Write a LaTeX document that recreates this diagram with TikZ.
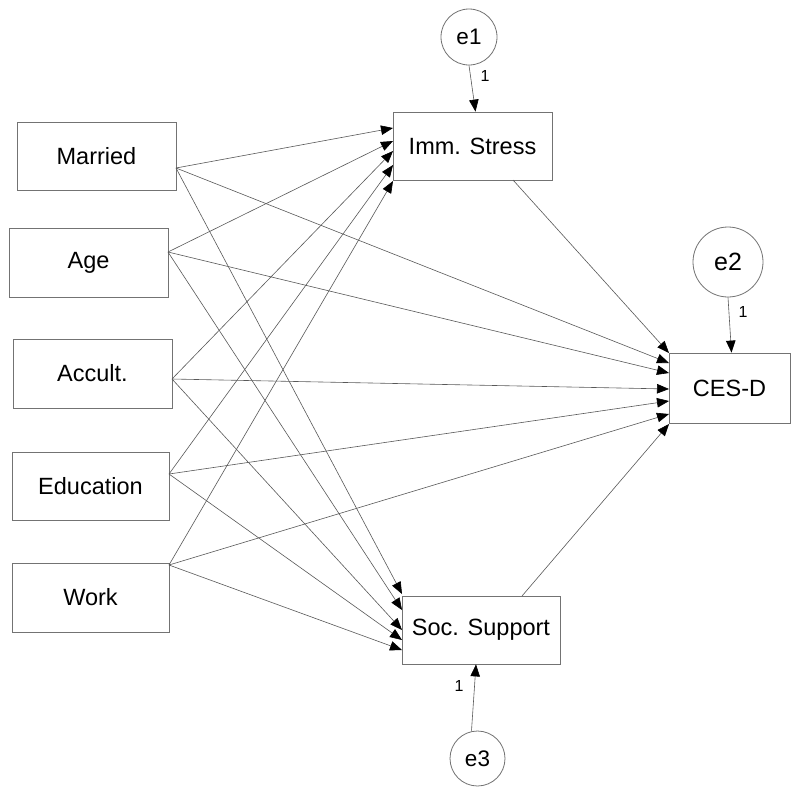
\documentclass[tikz,border=0pt]{standalone}
\usepackage{fontspec}
\setmainfont{Liberation Sans}
\usetikzlibrary{arrows.meta}
\begin{document}
\begin{tikzpicture}[x=1pt,y=-1pt,
  box/.style={draw=black!55,line width=0.8pt,rectangle,inner sep=0pt,font=\fontsize{23.5}{26}\selectfont},
  err/.style={draw=black!55,line width=0.8pt,circle,inner sep=0pt,font=\fontsize{22.5}{26}\selectfont},
  path/.style={draw=black!65,line width=0.6pt,-{Triangle[length=12pt,width=9.5pt,color=black]}},
  one/.style={font=\fontsize{16}{18}\selectfont}]
\useasboundingbox (0,0) rectangle (800,796);
\fill[white] (0,0) rectangle (800,796);
% exogenous boxes
\node[box,minimum width=159pt,minimum height=68pt] (mar) at (96.5,156) {Married};
\node[box,minimum width=159pt,minimum height=69pt] (age) at (88.5,262.5) {Age};
\node[box,minimum width=159pt,minimum height=69pt] (acc) at (92.5,373.5) {Accult.};
\node[box,minimum width=157pt,minimum height=68pt] (edu) at (90.5,486) {Education};
\node[box,minimum width=157pt,minimum height=69pt] (wor) at (90.5,597.5) {Work};
% endogenous boxes
\node[box,minimum width=159pt,minimum height=68pt] (ims) at (472.5,146) {Imm. Stress};
\node[box,minimum width=121pt,minimum height=70pt] (ces) at (729.5,388) {CES-D};
\node[box,minimum width=158pt,minimum height=68pt] (soc) at (481,630) {Soc. Support};
% errors
\node[err,minimum size=56pt] (e1) at (469,37) {e1};
\node[err,minimum size=70pt,font=\fontsize{25}{28}\selectfont] (e2) at (728,262) {e2};
\node[err,minimum size=55pt] (e3) at (477.5,758.5) {e3};
% start points on exogenous boxes
\coordinate (marO) at (176,168);
\coordinate (ageO) at (168,252);
\coordinate (accO) at (172,379);
\coordinate (eduO) at (169,474);
\coordinate (worO) at (169,565);
% targets on Imm. Stress
\coordinate (ims1) at (393,128);
\coordinate (ims2) at (393,141);
\coordinate (ims3) at (393,151);
\coordinate (ims4) at (393,165);
\coordinate (ims5) at (393,181);
% targets on CES-D
\coordinate (ces0) at (669,353);
\coordinate (ces1) at (669,363);
\coordinate (ces2) at (669,373);
\coordinate (ces3) at (669,389);
\coordinate (ces4) at (669,401);
\coordinate (ces5) at (669,414);
\coordinate (ces6) at (669,424);
% targets on Soc. Support
\coordinate (soc1) at (402,594);
\coordinate (soc2) at (402,610);
\coordinate (soc3) at (402,630);
\coordinate (soc4) at (402,640);
\coordinate (soc5) at (402,650);
% mediator start points
\coordinate (imsO) at (513,180);
\coordinate (socO) at (522,596);
% paths
\draw[path] (marO) -- (ims1);
\draw[path] (ageO) -- (ims2);
\draw[path] (accO) -- (ims3);
\draw[path] (eduO) -- (ims4);
\draw[path] (worO) -- (ims5);
\draw[path] (marO) -- (ces1);
\draw[path] (ageO) -- (ces2);
\draw[path] (accO) -- (ces3);
\draw[path] (eduO) -- (ces4);
\draw[path] (worO) -- (ces5);
\draw[path] (marO) -- (soc1);
\draw[path] (ageO) -- (soc2);
\draw[path] (accO) -- (soc3);
\draw[path] (eduO) -- (soc4);
\draw[path] (worO) -- (soc5);
\draw[path] (imsO) -- (ces0);
\draw[path] (socO) -- (ces6);
% error paths
\draw[path] (e1.south) -- ([xshift=3pt]ims.north);
\draw[path] (e2.south) -- ([xshift=2pt]ces.north);
\draw[path] ([xshift=-6pt]e3.north) -- ([xshift=-5pt]soc.south);
\node[one] (l1) at (485,76) {1};
\node[one] (l2) at (743,312) {1};
\node[one] (l3) at (459,686) {1};
\end{tikzpicture}
\end{document}
